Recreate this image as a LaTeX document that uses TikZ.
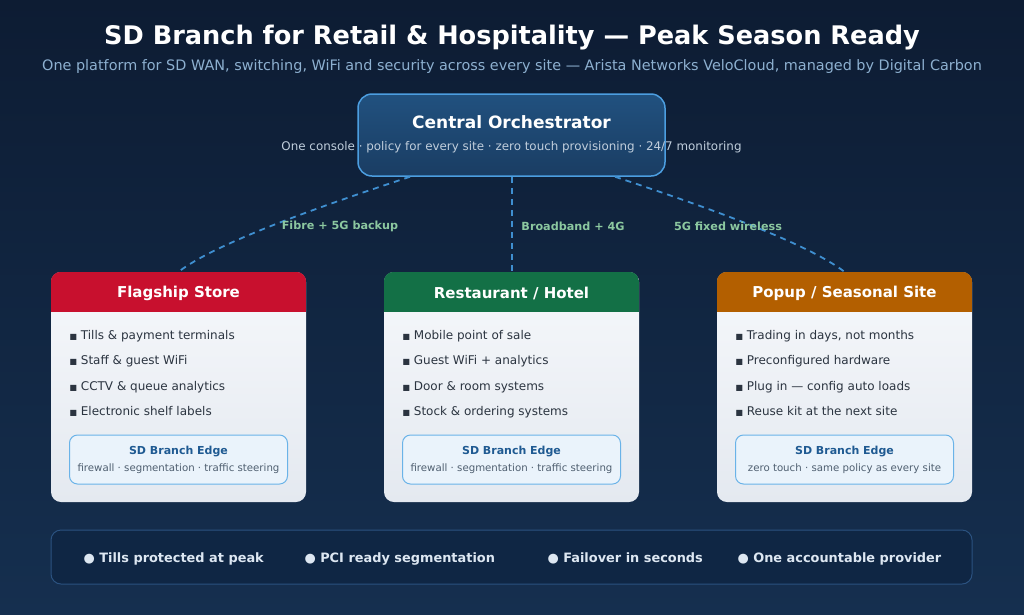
\documentclass[tikz,border=0pt]{standalone}
\usepackage{fontspec}
\setmainfont{DejaVu Sans}
\usetikzlibrary{calc}
\definecolor{bgtop}{HTML}{0D1C33}
\definecolor{bgbot}{HTML}{152F4F}
\definecolor{orchtop}{HTML}{21517F}
\definecolor{orchbot}{HTML}{1A3D63}
\definecolor{orchline}{HTML}{4C9EE0}
\definecolor{linkblue}{HTML}{3F8FD0}
\definecolor{linkgreen}{HTML}{8CC8A0}
\definecolor{subgrey}{HTML}{8DB0D0}
\definecolor{orchgrey}{HTML}{C0CEDC}
\definecolor{flagred}{HTML}{C8102E}
\definecolor{hotelgreen}{HTML}{137046}
\definecolor{popupamber}{HTML}{B35F00}
\definecolor{cardtop}{HTML}{F6F8FB}
\definecolor{cardbot}{HTML}{E4E9F0}
\definecolor{itemgrey}{HTML}{2B3440}
\definecolor{edgefill}{HTML}{EAF3FB}
\definecolor{edgeline}{HTML}{6AB3E8}
\definecolor{edgeblue}{HTML}{1F5A92}
\definecolor{edgegrey}{HTML}{4F5F70}
\definecolor{bannerfill}{HTML}{0F2644}
\definecolor{bannerline}{HTML}{2B5280}
\definecolor{bannertext}{HTML}{DDE7F2}
\newcommand{\sq}{{\fontsize{8}{8}\selectfont■}}

\begin{document}
\begin{tikzpicture}[x=1pt,y=-1pt,
  orch/.style={rounded corners=14pt, draw=orchline, line width=1.5pt, top color=orchtop, bottom color=orchbot, minimum width=307pt, minimum height=82pt},
  card/.style={rounded corners=10pt, top color=cardtop, bottom color=cardbot, minimum width=255pt, minimum height=230pt},
  head/.style={text=white, font=\fontsize{15}{18}\selectfont\bfseries},
  item/.style={anchor=west, text=itemgrey, text height=9.1pt, text depth=2.9pt, font=\fontsize{12}{14}\selectfont},
  edgebox/.style={rounded corners=8pt, draw=edgeline, line width=1pt, fill=edgefill, minimum width=218pt, minimum height=49pt},
  edgetitle/.style={text=edgeblue, font=\fontsize{11}{13}\selectfont\bfseries},
  edgesub/.style={text=edgegrey, font=\fontsize{10.2}{12}\selectfont},
  link/.style={draw=linkblue, line width=1.8pt, dash pattern=on 6pt off 5pt},
  linklabel/.style={text=linkgreen, font=\fontsize{11.2}{13}\selectfont\bfseries},
  perk/.style={anchor=west, text=bannertext, text height=9.8pt, text depth=3.1pt, font=\fontsize{12.9}{15}\selectfont\bfseries}]
  \useasboundingbox (0,0) rectangle (1024,614);
  \shade[top color=bgtop, bottom color=bgbot] (0,0) rectangle (1024,614);

  % title
  \node[text=white, font=\fontsize{25.6}{30}\selectfont\bfseries] (title) at (512,38) {SD Branch for Retail \& Hospitality — Peak Season Ready};
  \node[text=subgrey, font=\fontsize{14.4}{17}\selectfont] (subtitle) at (512,67) {One platform for SD WAN, switching, WiFi and security across every site — Arista Networks VeloCloud, managed by Digital Carbon};

  % orchestrator
  \node[orch] (orch) at (511.5,135) {};
  \node[text=white, font=\fontsize{17}{20}\selectfont\bfseries] (orcht) at (511.5,122.5) {Central Orchestrator};
  \node[text=orchgrey, font=\fontsize{11.9}{14}\selectfont] (orchs) at (511.5,147) {One console · policy for every site · zero touch provisioning · 24/7 monitoring};

  % sites
  \node[card] (flag) at (178.5,387) {};
  \node[card] (hotel) at (511.5,387) {};
  \node[card] (popup) at (844.5,387) {};
  \foreach \c/\col in {flag/flagred, hotel/hotelgreen, popup/popupamber} {
    \begin{scope}
      \clip[rounded corners=10pt] (\c.north west) rectangle (\c.south east);
      \fill[\col] (\c.north west) rectangle ($(\c.north east)+(0,40)$);
    \end{scope}
  }
  \node[head] (flagh) at (178.5,293.5) {Flagship Store};
  \node[head] (hotelh) at (511.5,293.5) {Restaurant / Hotel};
  \node[head] (popuph) at (844.5,293.5) {Popup / Seasonal Site};

  \foreach \t [count=\i] in {Tills \& payment terminals, Staff \& guest WiFi, CCTV \& queue analytics, Electronic shelf labels}
    \node[item] (flagi\i) at (66,{336+25.5*(\i-1)}) {\sq\ \t};
  \foreach \t [count=\i] in {Mobile point of sale, Guest WiFi + analytics, Door \& room systems, Stock \& ordering systems}
    \node[item] (hoteli\i) at (399,{336+25.5*(\i-1)}) {\sq\ \t};
  \foreach \t [count=\i] in {{Trading in days, not months}, Preconfigured hardware, Plug in — config auto loads, Reuse kit at the next site}
    \node[item] (popupi\i) at (732,{336+25.5*(\i-1)}) {\sq\ \t};

  \foreach \c/\x/\s in {flag/178.5/firewall · segmentation · traffic steering, hotel/511.5/firewall · segmentation · traffic steering, popup/844.5/zero touch · same policy as every site} {
    \node[edgebox] (\c e) at (\x,459.5) {};
    \node[edgetitle] at (\x,451.5) {SD Branch Edge};
    \node[edgesub] at (\x,468.5) {\s};
  }

  % links
  \draw[link] ($(orch.south)+(-101.5,0)$) .. controls (340,200) and (220,240) .. (flag.north);
  \draw[link] ($(orch.south)+(0.5,0)$) -- ($(hotel.north)+(0.5,0)$);
  \draw[link] ($(orch.south)+(103.5,0)$) .. controls (685,200) and (803,240) .. (popup.north);
  \node[linklabel] (l1) at (340,226.5) {Fibre + 5G backup};
  \node[linklabel] (l2) at (573,226.5) {Broadband + 4G};
  \node[linklabel] (l3) at (728,226.5) {5G fixed wireless};

  % banner
  \node[rounded corners=10pt, draw=bannerline, line width=1pt, fill=bannerfill, minimum width=921pt, minimum height=54pt] (banner) at (511.5,557) {};
  \node[perk] (p1) at (80,559) {● Tills protected at peak};
  \node[perk] (p2) at (301,559) {● PCI ready segmentation};
  \node[perk] (p3) at (544,559) {● Failover in seconds};
  \node[perk] (p4) at (734,559) {● One accountable provider};
\end{tikzpicture}
\end{document}
